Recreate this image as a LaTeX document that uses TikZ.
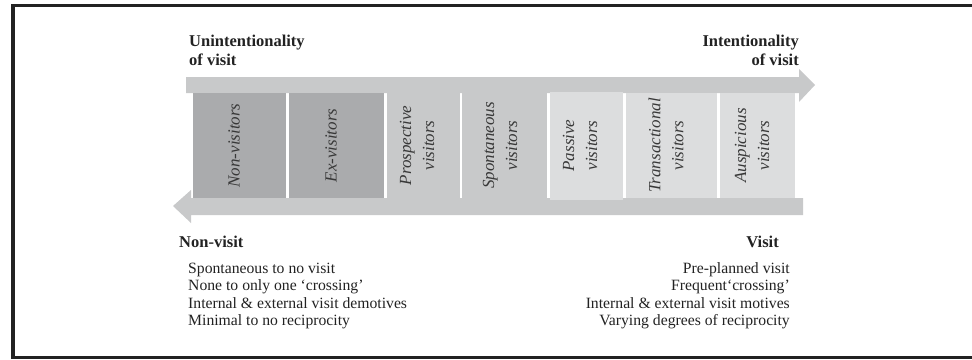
\documentclass[tikz,border=0pt]{standalone}
\usepackage{fontspec}
\setmainfont{Liberation Serif}
\definecolor{bargrey}{HTML}{C8C9CA}
\definecolor{darkbox}{HTML}{AAABAD}
\definecolor{lightbox}{HTML}{DCDDDE}
\definecolor{framecol}{HTML}{222222}
\definecolor{coltext}{HTML}{383838}
\tikzset{
  coltxt/.style={rotate=90,inner sep=0pt,align=center,text=coltext,
    font=\fontsize{17}{23}\selectfont\itshape},
  headtxt/.style={inner sep=0pt,font=\fontsize{16.5}{19}\selectfont\bfseries,text=framecol},
  listtxt/.style={inner sep=0pt,font=\fontsize{15.7}{17.5}\selectfont,text=framecol},
}
\begin{document}
\begin{tikzpicture}[x=1pt,y=-1pt]
\useasboundingbox (0,0) rectangle (972,359);
% frame
\draw[framecol,line width=3.5pt] (985,5.5) -- (13,5.5) -- (13,357.5) -- (985,357.5);
% arrows
\fill[bargrey] (186,77) -- (799,77) -- (799,69) -- (815,85) -- (799,102) -- (799,93) -- (186,93) -- cycle;
\fill[bargrey] (803,198) -- (191,198) -- (191,190) -- (173,206) -- (191,223) -- (191,215) -- (803,215) -- cycle;
% columns
\path[fill=darkbox] (193,93) rectangle (286,198);
\path[fill=darkbox] (289,93) rectangle (384,198);
\path[fill=bargrey] (387,93) rectangle (460,198);
\path[fill=bargrey] (462,93) rectangle (547,198);
\path[fill=lightbox] (550,92) rectangle (623,200);
\path[fill=lightbox] (626,93) rectangle (717,198);
\path[fill=lightbox] (720,93) rectangle (795,198);
\node[coltxt] (nonv) at (234,145.5) {Non-visitors};
\node[coltxt] (exv) at (331,145.5) {Ex-visitors};
\node[coltxt] (prosp) at (417,145.5) {Prospective\\visitors};
\node[coltxt] (spont) at (500,145.5) {Spontaneous\\visitors};
\node[coltxt] (pass) at (580,145.5) {Passive\\visitors};
\node[coltxt] (trans) at (666,145.5) {Transactional\\visitors};
\node[coltxt] (ausp) at (752,145.5) {Auspicious\\visitors};
% headings
\node[headtxt,align=left,anchor=base west] (unint) at (189,65) {Unintentionality\\of visit};
\node[headtxt,align=right,anchor=base east] (int) at (799,65) {Intentionality\\of visit};
\node[headtxt,anchor=base west] (nonvisit) at (179,247) {Non-visit};
\node[headtxt,anchor=base east] (visit) at (779,247) {Visit};
\node[listtxt,align=left,anchor=base west] (leftlist) at (188,325.5) {Spontaneous to no visit\\None to only one ‘crossing’\\Internal \& external visit demotives\\Minimal to no reciprocity};
\node[listtxt,align=right,anchor=base east] (rightlist) at (790,325.5) {Pre-planned visit\\Frequent‘crossing’\\Internal \& external visit motives\\Varying degrees of reciprocity};
\end{tikzpicture}
\end{document}
